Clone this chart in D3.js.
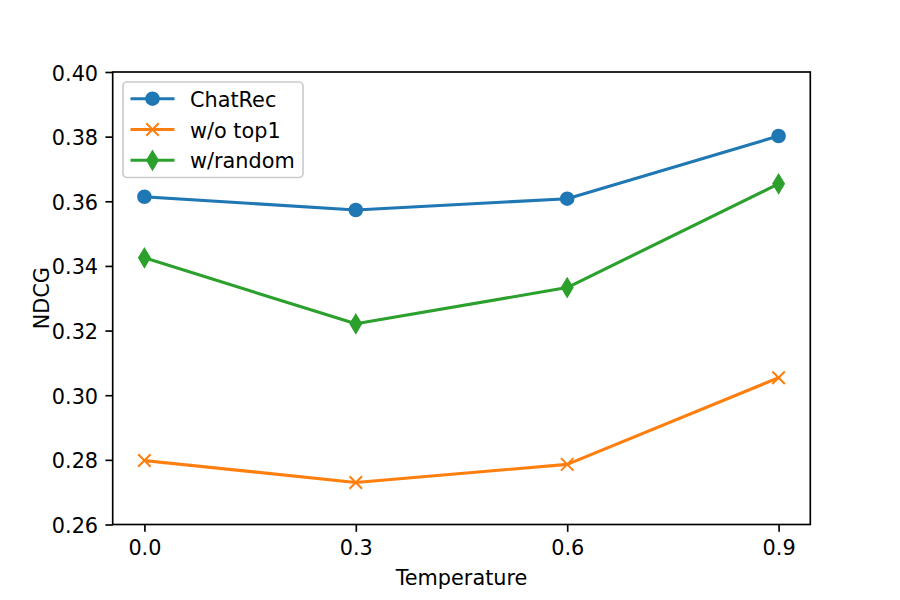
<!DOCTYPE html>
<html>
<head>
<meta charset="utf-8">
<script src="https://cdn.jsdelivr.net/npm/d3@7"></script>
<style>
  html, body { margin: 0; padding: 0; background: #fff; }
  svg { display: block; font-family: "DejaVu Sans", sans-serif; }
</style>
</head>
<body>
<svg id="chart" width="900" height="600"></svg>
<script>
const temperatures = [0.0, 0.3, 0.6, 0.9];
const seriesNames = ["ChatRec", "w/o top1", "w/random"];
const chatRec = [0.3614, 0.3573, 0.3608, 0.3802];
const woTop1 = [0.2798, 0.2730, 0.2786, 0.3054];
const wRandom = [0.3425, 0.3221, 0.3333, 0.3654];
const yTicks = [0.26, 0.28, 0.30, 0.32, 0.34, 0.36, 0.38, 0.40];
const xTicks = [0.0, 0.3, 0.6, 0.9];

const colors = ["#1f77b4", "#ff7f0e", "#2ca02c"];
const markers = ["circle", "x", "thinDiamond"];
const series = [chatRec, woTop1, wRandom].map((vals, i) => ({
  name: seriesNames[i], color: colors[i], marker: markers[i],
  points: vals.map((v, j) => ({ x: temperatures[j], y: v }))
}));

const svg = d3.select("#chart");
const L = 112.7, R = 810.3, T = 72, B = 524.5;
const fs = 20.8;

const x = d3.scaleLinear().domain([-0.045, 0.945]).range([L, R]);
const y = d3.scaleLinear().domain([0.26, 0.40]).range([B, T]);

// lines
const line = d3.line().x(d => x(d.x)).y(d => y(d.y));
const g = svg.append("g");

function drawMarker(sel, type, color, cx, cy) {
  const s = 12.5;
  if (type === "circle") {
    sel.append("circle").attr("cx", cx).attr("cy", cy).attr("r", s / 2)
      .attr("fill", color).attr("stroke", color).attr("stroke-width", 2.08);
  } else if (type === "x") {
    const h = s / 2;
    sel.append("path")
      .attr("d", `M${cx - h},${cy - h}L${cx + h},${cy + h}M${cx - h},${cy + h}L${cx + h},${cy - h}`)
      .attr("stroke", color).attr("stroke-width", 2.08).attr("fill", "none");
  } else {
    const hy = s * 0.7071, hx = hy * 0.6;
    sel.append("path")
      .attr("d", `M${cx},${cy - hy}L${cx + hx},${cy}L${cx},${cy + hy}L${cx - hx},${cy}Z`)
      .attr("fill", color).attr("stroke", color).attr("stroke-width", 2.08)
      .attr("stroke-linejoin", "miter");
  }
}

series.forEach(s => {
  g.append("path").datum(s.points).attr("d", line)
    .attr("fill", "none").attr("stroke", s.color).attr("stroke-width", 3.125)
    .attr("stroke-linecap", "square").attr("stroke-linejoin", "round");
  s.points.forEach(p => drawMarker(g, s.marker, s.color, x(p.x), y(p.y)));
});

// axes
const xAxis = d3.axisBottom(x).tickValues(xTicks).tickFormat(d3.format(".1f"))
  .tickSizeInner(7.3).tickSizeOuter(0).tickPadding(7.3);
const yAxis = d3.axisLeft(y).tickValues(yTicks).tickFormat(d3.format(".2f"))
  .tickSizeInner(7.3).tickSizeOuter(0).tickPadding(7.3);

const gx = svg.append("g").attr("transform", `translate(0,${B})`).call(xAxis);
const gy = svg.append("g").attr("transform", `translate(${L},0)`).call(yAxis);
[gx, gy].forEach(a => {
  a.select(".domain").remove();
  a.selectAll(".tick line").attr("stroke", "#000").attr("stroke-width", 1.67);
  a.selectAll(".tick text").attr("fill", "#000").attr("font-size", fs)
    .attr("font-family", "DejaVu Sans, sans-serif");
});
gx.selectAll(".tick text").attr("dy", null).attr("y", 30.5);
gy.selectAll(".tick text").attr("dy", null).attr("y", 8);

// frame
svg.append("rect").attr("x", L).attr("y", T).attr("width", R - L).attr("height", B - T)
  .attr("fill", "none").attr("stroke", "#000").attr("stroke-width", 1.67);

// axis labels
svg.append("text").attr("x", (L + R) / 2).attr("y", 585).attr("text-anchor", "middle")
  .attr("font-size", fs).text("Temperature");
svg.append("text").attr("transform", `translate(49,${(T + B) / 2}) rotate(-90)`)
  .attr("text-anchor", "middle").attr("font-size", fs).text("NDCG");

// legend
const lg = svg.append("g");
lg.append("rect").attr("x", 123).attr("y", 82).attr("width", 180).attr("height", 95.5)
  .attr("rx", 4).attr("ry", 4).attr("fill", "rgba(255,255,255,0.8)")
  .attr("stroke", "#cccccc").attr("stroke-width", 1.67);
series.forEach((s, i) => {
  const ly = 98.7 + i * 30.8;
  lg.append("line").attr("x1", 130.5).attr("x2", 174.5).attr("y1", ly).attr("y2", ly)
    .attr("stroke", s.color).attr("stroke-width", 3.125);
  drawMarker(lg, s.marker, s.color, 152.5, ly);
  lg.append("text").attr("x", 190).attr("y", ly + 8).attr("font-size", fs).text(s.name);
});
</script>
</body>
</html>
